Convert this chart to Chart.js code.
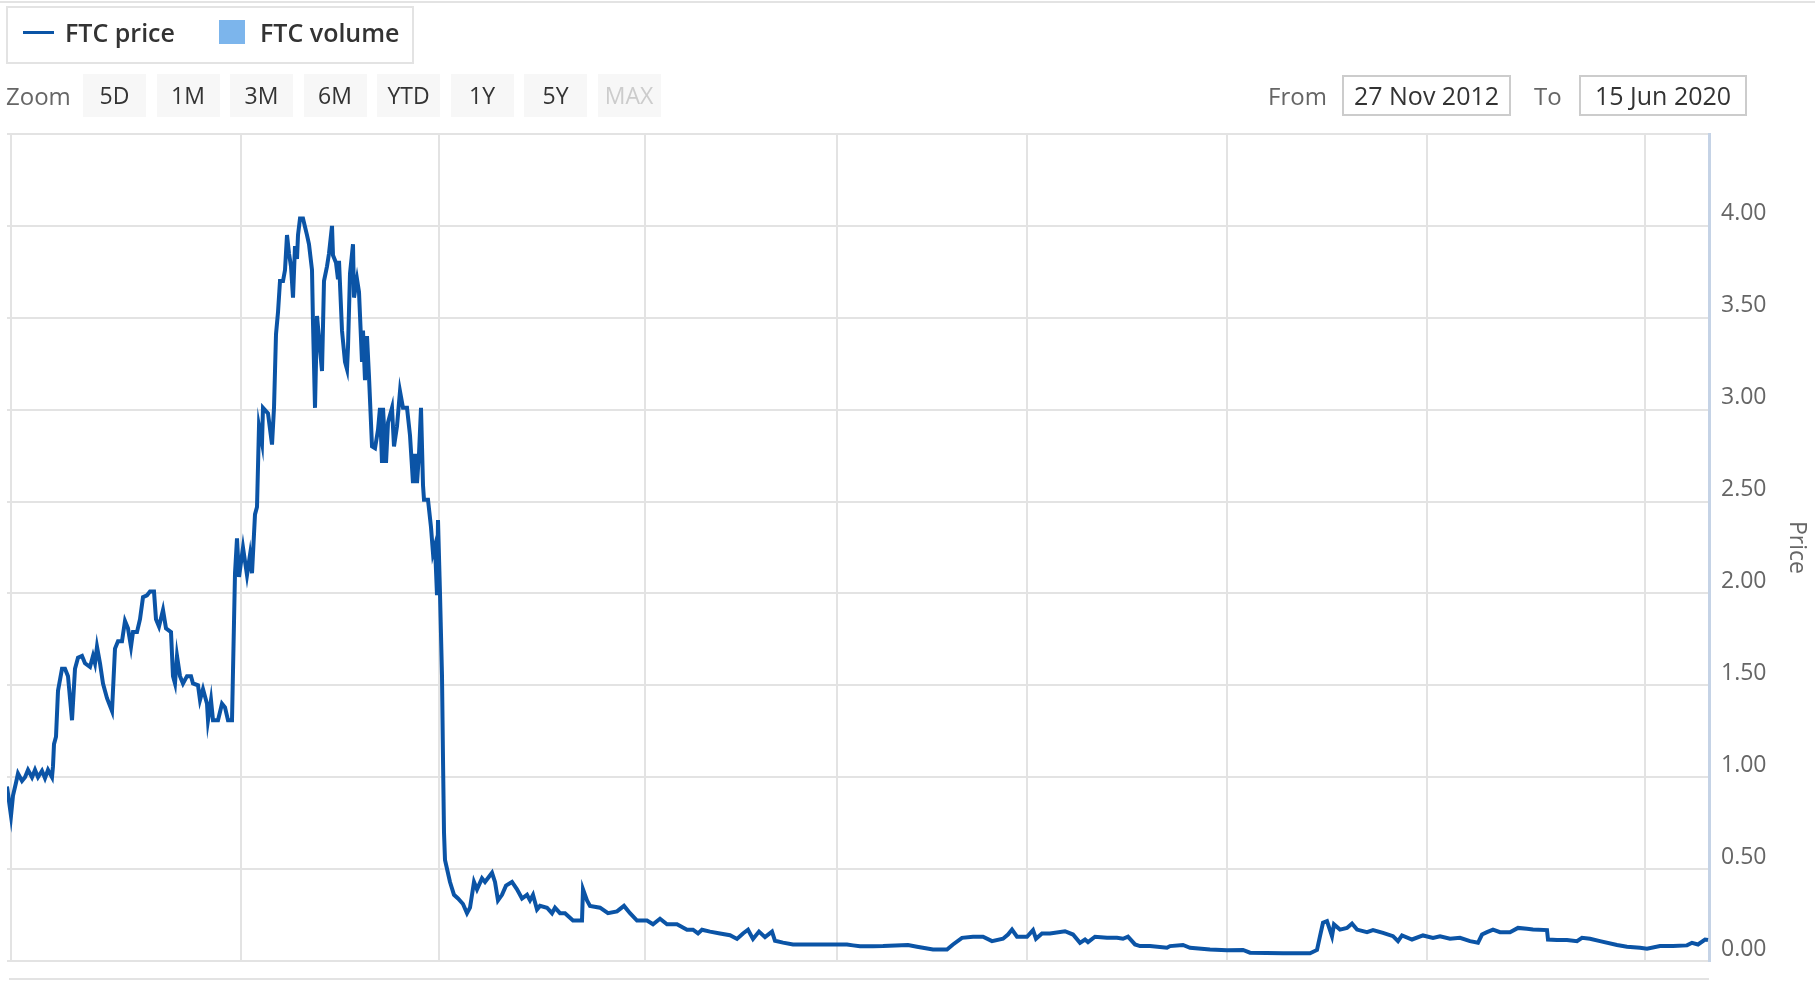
<!DOCTYPE html>
<html>
<head>
<meta charset="utf-8">
<title>FTC price</title>
<script src="https://cdn.jsdelivr.net/npm/chart.js@4.4.1/dist/chart.umd.min.js"></script>
<style>
  html, body { margin: 0; padding: 0; background: #fff; }
  body { width: 1815px; height: 981px; position: relative; overflow: hidden; font-family: 'Open Sans', sans-serif; }
  #wrap { position: absolute; left: 0; top: 0; width: 1815px; height: 981px; }
  .abs { position: absolute; }
  .topline { left: 0; top: 1px; width: 1815px; height: 2px; background: #e3e3e3; }
  .bottomline { left: 9px; top: 978px; width: 1700px; height: 2px; background: #e3e3e3; }
  .legend { left: 6px; top: 6px; width: 408px; height: 58px; border: 2px solid #e3e3e3; box-sizing: border-box; }
  .leg-text { top: 14px; height: 36px; line-height: 36px; font-size: 25px; font-weight: 600; color: #333; white-space: nowrap; }
  .lbl { top: 75px; height: 41px; line-height: 41px; font-size: 24px; color: #666; white-space: nowrap; }
  .btn { top: 74px; width: 63px; height: 43px; line-height: 43px; background: #f7f7f7; color: #333; font-size: 23px; text-align: center; }
  .btn.off { color: #ccc; }
  .date { top: 75px; height: 41px; line-height: 37px; border: 2px solid #ccc; box-sizing: border-box; font-size: 25px; color: #333; text-align: center; white-space: nowrap; }
</style>
</head>
<body>
<div id="wrap"><canvas id="priceChart"></canvas></div>
<div class="abs topline"></div>
<div class="abs bottomline"></div>

<div class="abs legend"></div>
<div class="abs" style="left:23px; top:31px; width:31px; height:3px; background:#0b54a6;"></div>
<div class="abs leg-text" style="left:65px;">FTC price</div>
<div class="abs" style="left:219px; top:20px; width:26px; height:24px; background:#7cb5ec;"></div>
<div class="abs leg-text" style="left:260px;">FTC volume</div>

<div class="abs lbl" style="left:6px;">Zoom</div>
<div id="buttons"></div>
<div class="abs lbl" style="left:1268px;">From</div>
<div class="abs date" style="left:1342px; width:169px;">27 Nov 2012</div>
<div class="abs lbl" style="left:1534px;">To</div>
<div class="abs date" style="left:1579px; width:168px;">15 Jun 2020</div>

<script>
// Trading-day index (ordinal axis) and FTC closing price
const day = [
  0, 4, 6, 9, 11, 15, 18, 21, 25, 28, 31, 35, 38, 41, 45, 46, 47, 49, 51, 55,
  58, 61, 65, 68, 71, 75, 78, 83, 86, 88, 90, 93, 96, 100, 105, 108, 111, 115, 118, 121,
  124, 126, 130, 133, 136, 140, 143, 147, 149, 152, 156, 159, 164, 166, 168, 170, 173, 176, 180, 184,
  186, 191, 193, 196, 200, 201, 204, 206, 211, 215, 218, 221, 225, 228, 230, 232, 236, 240, 243, 245,
  248, 250, 252, 255, 256, 261, 265, 267, 269, 271, 273, 276, 278, 280, 282, 284, 286, 288, 290, 291,
  293, 296, 300, 302, 305, 306, 308, 310, 312, 315, 317, 320, 322, 325, 326, 329, 331, 332, 335, 338,
  340, 341, 343, 346, 347, 350, 352, 355, 356, 358, 360, 362, 365, 368, 371, 373, 375, 376, 379, 381,
  385, 387, 390, 393, 396, 400, 403, 406, 408, 410, 412, 414, 416, 417, 421, 424, 426, 428, 430, 431,
  433, 435, 436, 437, 438, 443, 447, 451, 456, 460, 463, 467, 470, 475, 478, 485, 488, 491, 495, 499,
  505, 510, 515, 520, 523, 526, 530, 533, 540, 545, 548, 553, 558, 566, 575, 576, 580, 583, 593, 601,
  610, 617, 623, 630, 640, 646, 653, 660, 670, 680, 686, 691, 695, 703, 713, 723, 730, 736, 741, 746,
  752, 758, 765, 768, 776, 786, 793, 810, 826, 840, 846, 853, 866, 876, 901, 910, 926, 940, 946, 955,
  966, 976, 985, 996, 1001, 1005, 1010, 1020, 1026, 1029, 1035, 1043, 1058, 1066, 1073, 1078, 1081, 1088, 1100, 1110,
  1116, 1121, 1128, 1133, 1143, 1160, 1163, 1176, 1183, 1203, 1220, 1236, 1243, 1276, 1303, 1310, 1313, 1316, 1320, 1325,
  1327, 1333, 1340, 1345, 1350, 1360, 1366, 1376, 1386, 1391, 1395, 1405, 1416, 1426, 1433, 1443, 1453, 1463, 1471, 1475,
  1480, 1486, 1493, 1503, 1511, 1520, 1526, 1540, 1541, 1550, 1560, 1570, 1575, 1583, 1593, 1610, 1620, 1633, 1640, 1653,
  1666, 1680, 1685, 1691, 1698, 1701
];
const price = [
  0.95, 0.79, 0.90, 0.97, 1.02, 0.98, 1.00, 1.04, 1.00, 1.04, 1.00, 1.035, 0.995, 1.04, 1.00, 1.06, 1.18, 1.22, 1.47, 1.59,
  1.59, 1.55, 1.31, 1.59, 1.65, 1.66, 1.62, 1.60, 1.66, 1.62, 1.71, 1.62, 1.51, 1.43, 1.36, 1.70, 1.74, 1.74, 1.85, 1.81,
  1.71, 1.79, 1.79, 1.86, 1.98, 1.99, 2.01, 2.01, 1.86, 1.82, 1.91, 1.81, 1.79, 1.55, 1.51, 1.66, 1.55, 1.51, 1.55, 1.55,
  1.51, 1.50, 1.42, 1.48, 1.40, 1.31, 1.42, 1.31, 1.31, 1.40, 1.38, 1.31, 1.31, 2.11, 2.30, 2.09, 2.25, 2.10, 2.21, 2.11,
  2.43, 2.47, 2.91, 2.82, 3.01, 2.98, 2.81, 3.01, 3.41, 3.53, 3.70, 3.70, 3.76, 3.95, 3.85, 3.78, 3.61, 3.89, 3.82, 3.95,
  4.04, 4.04, 3.95, 3.90, 3.76, 3.47, 3.01, 3.51, 3.39, 3.21, 3.70, 3.78, 3.85, 4.00, 3.84, 3.80, 3.71, 3.81, 3.43, 3.26,
  3.22, 3.34, 3.74, 3.90, 3.61, 3.71, 3.64, 3.26, 3.43, 3.16, 3.40, 3.18, 2.80, 2.79, 2.89, 3.01, 2.71, 3.01, 2.71, 2.93,
  3.01, 2.80, 2.91, 3.10, 3.01, 3.01, 2.86, 2.60, 2.76, 2.60, 2.76, 3.01, 2.59, 2.51, 2.51, 2.36, 2.22, 2.26, 1.99, 2.40,
  2.00, 1.55, 1.10, 0.70, 0.55, 0.43, 0.36, 0.34, 0.31, 0.26, 0.29, 0.43, 0.39, 0.45, 0.43, 0.48, 0.43, 0.33, 0.36, 0.41,
  0.43, 0.39, 0.34, 0.36, 0.33, 0.36, 0.28, 0.30, 0.29, 0.26, 0.29, 0.26, 0.26, 0.22, 0.22, 0.39, 0.33, 0.30, 0.29, 0.26,
  0.27, 0.30, 0.26, 0.22, 0.22, 0.20, 0.23, 0.20, 0.20, 0.17, 0.17, 0.15, 0.17, 0.16, 0.15, 0.14, 0.12, 0.15, 0.17, 0.12,
  0.16, 0.13, 0.16, 0.11, 0.10, 0.09, 0.09, 0.09, 0.09, 0.09, 0.085, 0.08, 0.08, 0.081, 0.087, 0.078, 0.063, 0.063, 0.09, 0.126,
  0.132, 0.132, 0.108, 0.121, 0.144, 0.171, 0.132, 0.132, 0.168, 0.121, 0.15, 0.15, 0.162, 0.144, 0.099, 0.117, 0.103, 0.132, 0.126, 0.126,
  0.121, 0.132, 0.09, 0.081, 0.081, 0.072, 0.081, 0.087, 0.072, 0.063, 0.058, 0.06, 0.045, 0.042, 0.042, 0.06, 0.135, 0.208, 0.217, 0.135,
  0.199, 0.171, 0.18, 0.204, 0.171, 0.157, 0.168, 0.153, 0.135, 0.108, 0.139, 0.117, 0.139, 0.126, 0.135, 0.121, 0.126, 0.108, 0.099, 0.144,
  0.157, 0.171, 0.157, 0.157, 0.18, 0.175, 0.171, 0.168, 0.117, 0.114, 0.114, 0.108, 0.126, 0.121, 0.108, 0.087, 0.078, 0.072, 0.067, 0.081,
  0.081, 0.085, 0.099, 0.09, 0.117, 0.114
];
// positions of the vertical grid lines on the ordinal axis
const gridDays = [4, 234, 432, 638, 830, 1020, 1220, 1420, 1638];
const zoomButtons = ['5D', '1M', '3M', '6M', 'YTD', '1Y', '5Y', 'MAX'];

// range selector buttons
const btnWrap = document.getElementById('buttons');
zoomButtons.forEach(function (b, i) {
  const el = document.createElement('div');
  el.className = 'abs btn' + (b === 'MAX' ? ' off' : '');
  el.style.left = (83 + i * 73.5) + 'px';
  el.textContent = b;
  btnWrap.appendChild(el);
});

const points = day.map(function (d, i) { return { x: d, y: price[i] }; });

const ctx = document.getElementById('priceChart').getContext('2d');
new Chart(ctx, {
  type: 'line',
  data: {
    datasets: [{
      label: 'FTC price',
      data: points,
      borderColor: '#0b54a6',
      borderWidth: 4,
      pointRadius: 0,
      tension: 0,
      fill: false
    }]
  },
  options: {
    responsive: true,
    maintainAspectRatio: false,
    animation: false,
    layout: { padding: { left: 7, top: 134, right: 0, bottom: 20 } },
    plugins: {
      legend: { display: false },
      tooltip: { enabled: false }
    },
    scales: {
      x: {
        type: 'linear',
        min: 0,
        max: 1702,
        afterBuildTicks: function (scale) {
          scale.ticks = gridDays.map(function (v) { return { value: v }; });
        },
        afterFit: function (scale) { scale.height = 0; },
        ticks: { display: false },
        grid: { color: '#e3e3e3', lineWidth: 2, drawTicks: false },
        border: { display: false }
      },
      y: {
        position: 'right',
        min: 0,
        max: 4.5,
        afterFit: function (scale) {
          scale.width = 106;
          // labels sit above their grid lines, so no extra room is needed at the ends
          scale.paddingTop = 0;
          scale.paddingBottom = 0;
        },
        ticks: {
          stepSize: 0.5,
          padding: 12,
          labelOffset: -12,
          color: '#666',
          font: { family: 'Open Sans', size: 23 },
          callback: function (v) { return v >= 4.5 ? '' : v.toFixed(2); }
        },
        grid: { color: '#e3e3e3', lineWidth: 2, drawTicks: false },
        border: { color: '#c5d3e6', width: 3 },
        title: {
          display: true,
          text: 'Price',
          color: '#666',
          font: { family: 'Open Sans', size: 23 },
          padding: { top: 5, bottom: 0 }
        }
      }
    }
  }
});
</script>
</body>
</html>
